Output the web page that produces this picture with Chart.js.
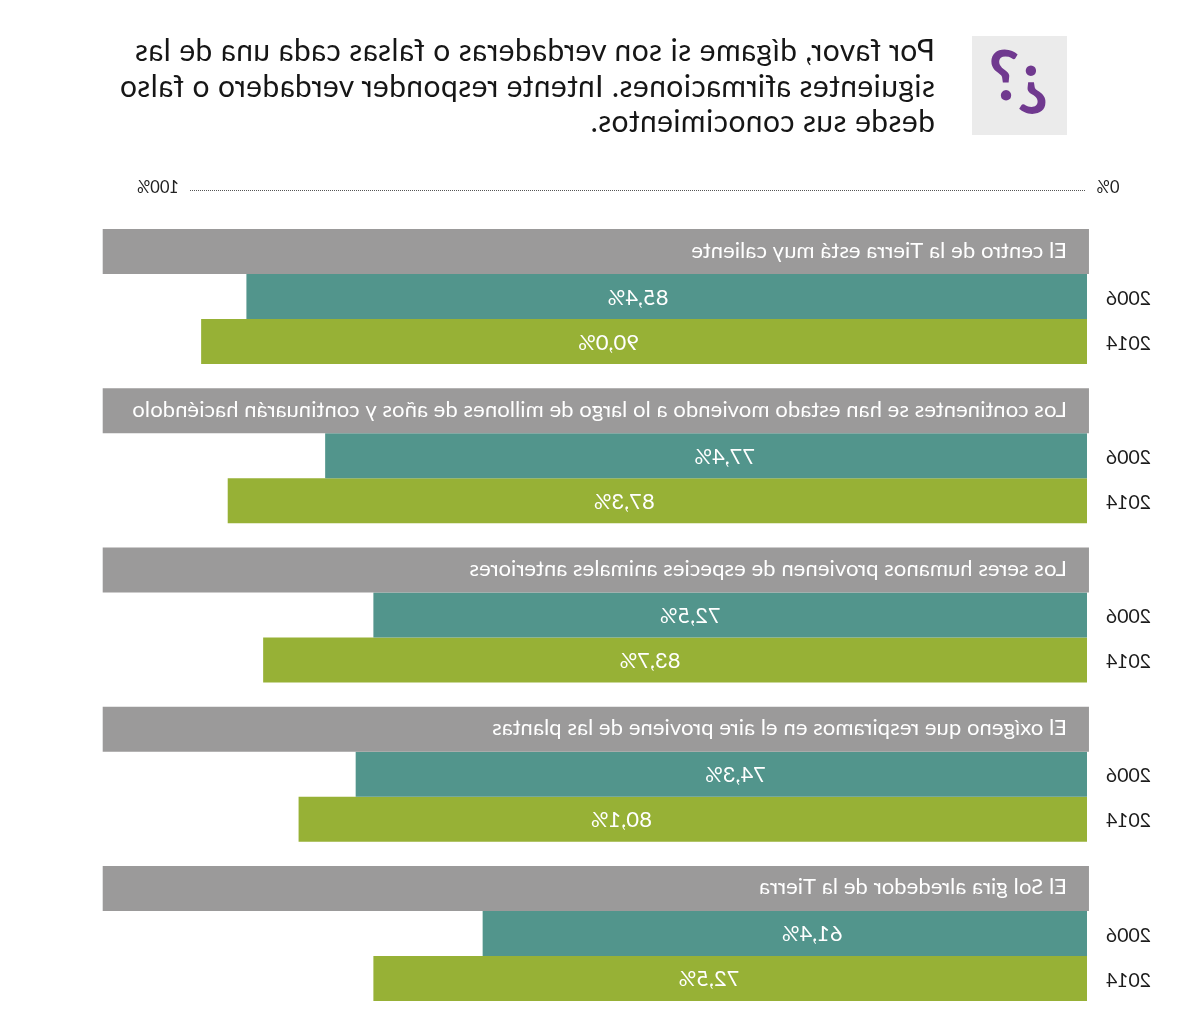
<!DOCTYPE html>
<html lang="es">
<head>
<meta charset="utf-8">
<script src="https://cdn.jsdelivr.net/npm/chart.js@4"></script>
<style>
html,body{margin:0;padding:0;background:#fff;width:1200px;height:1013px;overflow:hidden}
#page{position:relative;width:1200px;height:1013px;transform:scaleX(-1);transform-origin:center;overflow:hidden}
canvas{position:absolute;left:0;top:0}
#icon{position:absolute;left:133px;top:36px;width:95px;height:99px;background:#ebebeb}
#icon span{position:absolute;font:700 68px Lato,sans-serif;color:#70398f;line-height:68px}
#title{position:absolute;left:265px;top:32px;width:830px;font:400 30px/35.7px Lato,sans-serif;letter-spacing:.42px;color:#161616;white-space:pre}
</style>
</head>
<body>
<div id="page">
<canvas id="c" width="1200" height="1013"></canvas>
<div id="icon"><span style="left:19px;top:5px">¿</span><span style="left:47px;top:4px">?</span></div>
<div id="title">Por favor, dígame si son verdaderas o falsas cada una de las
siguientes afirmaciones. Intente responder verdadero o falso
desde sus conocimientos.</div>
</div>
<script>
const categories = [
  "El centro de la Tierra está muy caliente",
  "Los continentes se han estado moviendo a lo largo de millones de años y continuarán haciéndolo",
  "Los seres humanos provienen de especies animales anteriores",
  "El oxígeno que respiramos en el aire proviene de las plantas",
  "El Sol gira alrededor de la Tierra"
];
const values2006 = [85.4, 77.4, 72.5, 74.3, 61.4];
const values2014 = [90.0, 87.3, 83.7, 80.1, 72.5];
const bandValues = [100, 100, 100, 100, 100];
const seriesNames = ["2006", "2014"];
const axisLabels = ["0%", "100%"];
// where the value labels sit, in axis units
const labelAt2006 = [45.6, 36.8, 40.3, 35.7, 27.9];
const labelAt2014 = [48.6, 47.0, 44.4, 47.3, 38.4];

const textPlugin = {
  id: 'texts',
  afterDatasetsDraw(chart) {
    const ctx = chart.ctx, xs = chart.scales.x;
    ctx.save();
    ctx.textBaseline = 'middle';
    // axis rule and end labels
    ctx.strokeStyle = '#555';
    ctx.lineWidth = 1;
    ctx.setLineDash([1, 1]);
    ctx.beginPath(); ctx.moveTo(115, 190.5); ctx.lineTo(1011, 190.5); ctx.stroke();
    ctx.setLineDash([]);
    ctx.fillStyle = '#222';
    ctx.font = '16.5px Lato, sans-serif';
    ctx.textAlign = 'center';
    ctx.fillText(axisLabels[0], 92, 187.5);
    ctx.fillText(axisLabels[1], 1042, 187.5);
    // question text inside the grey bands
    const band = chart.getDatasetMeta(0).data;
    ctx.textAlign = 'left';
    ctx.fillStyle = '#fff';
    ctx.font = '22px Lato, sans-serif';
    ctx.letterSpacing = '0.08px';
    categories.forEach((t, i) => ctx.fillText(t, 133, band[i].y - 1));
    ctx.letterSpacing = '0px';
    // values and year labels
    [[1, values2006, labelAt2006], [2, values2014, labelAt2014]].forEach(([d, vals, at]) => {
      const els = chart.getDatasetMeta(d).data;
      vals.forEach((v, i) => {
        ctx.textAlign = 'center';
        ctx.fillStyle = '#fff';
        ctx.font = '22px Lato, sans-serif';
        ctx.fillText(v.toFixed(1).replace('.', ',') + '%', xs.getPixelForValue(at[i]), els[i].y + 1);
        ctx.fillStyle = '#1c1c1c';
        ctx.font = '19.5px Lato, sans-serif';
        ctx.fillText(seriesNames[d - 1], 71.5, els[i].y + 2);
      });
    });
    ctx.restore();
  }
};

new Chart(document.getElementById('c'), {
  type: 'bar',
  data: {
    labels: categories,
    datasets: [
      { label: 'Afirmación', data: bandValues, backgroundColor: '#9b9a9a', base: -0.2, clip: false },
      { label: seriesNames[0], data: values2006, backgroundColor: '#52958c' },
      { label: seriesNames[1], data: values2014, backgroundColor: '#97b136' }
    ]
  },
  options: {
    indexAxis: 'y',
    responsive: false,
    animation: false,
    layout: { padding: { left: 113, right: 102.7, top: 217, bottom: 0 } },
    categoryPercentage: 0.848,
    barPercentage: 1,
    scales: {
      x: { display: false, min: 0, max: 100 },
      y: { display: false }
    },
    plugins: { legend: { display: false }, tooltip: { enabled: false } }
  },
  plugins: [textPlugin]
});
</script>
</body>
</html>
